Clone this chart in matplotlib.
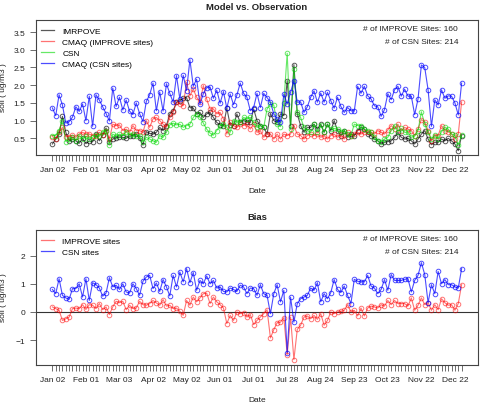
import numpy as np
import matplotlib
matplotlib.use("Agg")
import matplotlib.pyplot as plt
from matplotlib.lines import Line2D

plt.rcParams['font.family'] = ['Liberation Sans', 'DejaVu Sans']

# date labels every 10 samples (samples are every 3 days, by index)
date_labels = ["Jan 02", "Feb 01", "Mar 03", "Apr 02", "May 02", "Jun 01", "Jul 01",
               "Jul 28", "Aug 24", "Sep 23", "Oct 23", "Nov 22", "Dec 22"]

improve_obs = [0.34, 0.48, 0.62, 1.12, 0.67, 0.43, 0.48, 0.43, 0.36, 0.50,
               0.35, 0.43, 0.40, 0.62, 0.43, 0.59, 0.79, 0.39, 0.48, 0.52,
               0.53, 0.53, 0.50, 0.56, 0.58, 0.62, 0.50, 0.31, 0.69, 0.64,
               0.62, 0.67, 0.81, 0.72, 0.86, 1.19, 1.28, 1.52, 1.56, 1.63,
               1.65, 1.37, 1.35, 1.19, 1.23, 1.09, 1.19, 1.23, 1.09, 0.95,
               0.88, 0.86, 1.35, 0.88, 0.86, 1.19, 0.95, 1.00, 0.97, 0.95,
               1.33, 1.00, 0.86, 0.81, 0.62, 1.20, 1.00, 0.95, 1.19, 1.14,
               2.13, 0.86, 2.58, 1.19, 0.86, 0.67, 0.81, 0.81, 0.90, 0.76,
               0.90, 0.67, 0.90, 0.72, 1.00, 0.72, 0.58, 0.72, 0.53, 0.62,
               0.58, 0.72, 0.81, 0.76, 0.62, 0.58, 0.48, 0.43, 0.34, 0.39,
               0.41, 0.43, 0.53, 0.67, 0.53, 0.48, 0.50, 0.43, 0.34, 0.48,
               0.62, 0.72, 0.48, 0.32, 0.39, 0.39, 0.48, 0.43, 0.50, 0.43,
               0.34, 0.15, 0.58]

cmaq_improve = [0.55, 0.48, 0.67, 0.81, 0.55, 0.55, 0.59, 0.53, 0.62, 0.67,
                0.62, 0.62, 0.58, 0.58, 0.67, 0.59, 0.72, 0.48, 0.90, 0.86,
                0.88, 0.72, 0.76, 0.67, 0.86, 0.72, 0.72, 0.67, 1.00, 0.81,
                1.05, 1.09, 1.00, 0.90, 0.81, 1.09, 1.23, 1.52, 1.47, 1.42,
                2.08, 1.70, 1.89, 1.66, 1.52, 1.99, 1.61, 1.33, 1.33, 1.19,
                1.23, 1.05, 0.62, 0.95, 0.86, 0.81, 0.90, 0.86, 0.90, 0.76,
                0.90, 0.67, 0.72, 0.53, 0.62, 0.62, 0.48, 0.62, 0.48, 0.62,
                0.58, 0.62, 0.86, 0.62, 0.58, 0.48, 0.58, 0.62, 0.58, 0.62,
                0.53, 0.58, 0.48, 0.58, 0.62, 0.53, 0.62, 0.48, 0.67, 0.58,
                0.62, 0.67, 0.62, 0.67, 0.69, 0.67, 0.62, 0.72, 0.67, 0.62,
                0.74, 0.86, 0.76, 0.90, 0.72, 0.81, 0.76, 0.72, 0.58, 0.76,
                1.03, 0.97, 0.72, 0.43, 0.58, 0.58, 0.86, 0.72, 0.69, 0.62,
                0.48, 0.62, 1.53]

csn_obs = [0.58, 0.58, 0.72, 1.00, 0.41, 0.48, 0.53, 0.43, 0.58, 0.48,
           0.56, 0.48, 0.53, 0.59, 0.56, 0.69, 0.72, 0.32, 0.62, 0.56,
           0.62, 0.58, 0.69, 0.59, 0.62, 0.56, 0.58, 0.39, 0.53, 0.48,
           0.43, 0.39, 0.58, 0.53, 0.67, 0.88, 0.93, 0.88, 0.90, 0.81,
           0.86, 0.90, 1.09, 1.19, 1.09, 0.93, 0.76, 0.65, 0.59, 0.72,
           0.86, 0.90, 0.81, 0.67, 1.00, 0.97, 0.95, 1.09, 1.05, 1.09,
           0.95, 0.81, 0.86, 0.81, 1.33, 1.47, 1.44, 0.90, 0.83, 1.50,
           2.90, 0.75, 2.46, 1.23, 1.09, 0.81, 0.72, 0.67, 0.90, 0.69,
           0.89, 0.67, 0.90, 0.76, 0.78, 0.76, 0.67, 0.72, 0.62, 0.58,
           0.90, 0.86, 0.86, 0.76, 0.72, 0.67, 0.53, 0.43, 0.41, 0.48,
           0.53, 0.72, 0.86, 0.69, 0.78, 0.67, 0.67, 0.53, 0.56, 0.72,
           1.25, 0.90, 0.67, 0.48, 0.59, 0.48, 0.69, 0.81, 0.76, 0.62,
           0.59, 0.31, 0.59]

cmaq_csn = [1.36, 1.14, 1.73, 1.44, 0.93, 0.97, 1.10, 1.39, 1.26, 1.47,
            1.00, 1.69, 0.84, 1.73, 1.58, 1.39, 1.20, 0.99, 1.92, 1.40,
            1.66, 1.30, 1.58, 1.27, 1.17, 1.50, 1.20, 0.97, 1.54, 1.73,
            2.06, 1.28, 1.81, 1.27, 2.04, 1.77, 1.52, 2.27, 1.61, 2.28,
            1.85, 2.72, 1.97, 2.17, 1.46, 1.76, 1.93, 1.95, 1.63, 1.86,
            1.49, 1.82, 1.35, 1.75, 1.45, 1.72, 2.06, 1.77, 1.66, 1.28,
            1.37, 1.77, 1.37, 1.77, 1.65, 1.52, 1.19, 1.05, 0.95, 1.75,
            1.47, 1.80, 2.13, 1.52, 1.53, 1.23, 1.39, 1.66, 1.84, 1.52,
            1.78, 1.52, 1.80, 1.56, 1.35, 1.66, 1.40, 1.23, 1.37, 1.28,
            1.27, 1.97, 1.77, 1.97, 1.70, 1.61, 1.42, 1.39, 1.12, 1.31,
            1.76, 1.59, 1.87, 1.97, 1.69, 1.89, 1.69, 1.69, 1.17, 1.61,
            2.57, 2.50, 1.87, 0.84, 1.59, 1.44, 1.87, 1.63, 1.70, 1.69,
            1.50, 1.16, 2.06]

bias_improve = [0.18, 0.12, 0.06, -0.30, -0.24, -0.18, 0.12, 0.14, 0.12, 0.26,
                0.09, 0.26, 0.24, 0.12, 0.30, 0.08, 0.18, -0.09, 0.18, 0.38,
                0.33, 0.38, 0.08, 0.24, 0.12, 0.14, 0.38, 0.26, 0.24, 0.30,
                0.41, 0.32, 0.24, 0.44, 0.21, 0.24, 0.12, 0.14, 0.02, -0.12,
                0.41, 0.24, 0.53, 0.36, 0.50, 0.65, 0.67, 0.30, 0.53, 0.36,
                0.26, 0.14, -0.41, -0.12, -0.30, 0.00, -0.06, -0.02, -0.18, -0.09,
                -0.45, -0.30, -0.18, -0.06, 0.08, -0.92, -0.63, -0.38, -0.36, -0.20,
                -1.51, -0.18, -1.69, -0.62, -0.47, -0.18, -0.14, -0.24, -0.12, -0.26,
                -0.06, -0.47, -0.30, 0.00, -0.06, 0.00, 0.02, 0.06, 0.26, 0.00,
                0.06, -0.14, 0.14, -0.14, 0.14, 0.21, 0.18, 0.14, 0.26, 0.21,
                0.41, 0.26, 0.41, 0.30, 0.30, 0.30, 0.21, 0.50, 0.06, 0.24,
                0.50, 0.26, 0.33, 0.06, 0.26, 0.08, 0.47, 0.33, 0.24, 0.26,
                0.06, 0.30, 0.97]

bias_csn = [0.80, 0.65, 1.18, 0.59, 0.50, 0.45, 0.83, 0.83, 1.00, 0.53,
            1.18, 0.41, 1.04, 0.97, 0.85, 0.56, 0.67, 1.22, 0.89, 0.95,
            0.80, 1.00, 0.71, 0.67, 1.00, 0.83, 0.59, 1.09, 1.24, 1.30,
            0.83, 1.03, 0.73, 1.15, 0.89, 0.57, 1.30, 0.89, 1.42, 1.07,
            1.54, 1.04, 1.40, 0.77, 1.12, 1.00, 1.28, 1.00, 1.12, 0.85,
            0.89, 0.73, 0.71, 0.85, 0.80, 0.73, 0.95, 0.89, 0.65, 0.85,
            0.83, 0.59, 0.97, 0.65, 0.59, -0.06, 0.65, 0.97, 0.36, 0.77,
            -1.44, 0.53, -0.36, 0.30, 0.47, 0.53, 0.59, 0.85, 0.77, 1.04,
            0.36, 0.65, 0.47, 0.69, 1.15, 0.80, 0.69, 0.92, 0.59, 0.30,
            1.16, 1.09, 1.07, 1.07, 1.30, 0.92, 0.85, 0.65, 0.80, 1.15,
            0.77, 1.33, 1.12, 1.12, 1.12, 1.16, 1.18, 0.71, 1.12, 1.30,
            1.75, 1.33, 0.33, 0.97, 0.65, 1.44, 1.00, 1.15, 0.97, 0.97,
            0.89, 0.85, 1.54]

n = len(cmaq_csn)
x = np.arange(n)

fs = 6.0
red = (1, 0, 0, 0.55)
green = (0, 0.85, 0, 0.6)
blue = (0, 0, 1, 0.7)
black = (0, 0, 0, 0.65)

fig = plt.figure(figsize=(4.83, 4.10), dpi=100)
W, H = 483.0, 410.0
ax1 = fig.add_axes([36 / W, (H - 156) / H, 442 / W, 135 / H])
ax2 = fig.add_axes([36 / W, (H - 365.7) / H, 442 / W, 135 / H])


def series(ax, y, c):
    ax.plot(x, y, '-o', color=c, lw=0.8, ms=3.3, mfc='none', mec=c, mew=0.7)


def style(ax):
    ax.set_xlim(-0.04 * (n - 1), (n - 1) * 1.04)
    ax.set_xticks(x, minor=True)
    ax.set_xticks(np.arange(0, n, 10))
    ax.set_xticklabels(date_labels)
    ax.tick_params(which='both', direction='out', length=4.3, width=0.5, colors='#333333',
                   labelsize=fs, labelcolor='#222222', pad=3.5)
    for s in ax.spines.values():
        s.set_color('#444444')
        s.set_linewidth(0.8)


def legend(ax, colors, labels):
    handles = [Line2D([], [], color=c, lw=0.9) for c in colors]
    ax.legend(handles, labels, loc='upper left', frameon=False, fontsize=fs, handlelength=1.6,
              handletextpad=1.0, labelspacing=0.38, borderaxespad=0.25, borderpad=0.3,
              bbox_to_anchor=(0.0, 0.98))


series(ax1, improve_obs, black)
series(ax1, cmaq_improve, red)
series(ax1, csn_obs, green)
series(ax1, cmaq_csn, blue)
style(ax1)
ax1.set_ylim(0.03, 3.84)
ax1.set_yticks([0.5, 1.0, 1.5, 2.0, 2.5, 3.0, 3.5])
ax1.set_yticklabels(["0.5", "1.0", "1.5", "2.0", "2.5", "3.0", "3.5"])
legend(ax1, [black, red, green, blue],
       ["IMRPOVE", "CMAQ (IMPROVE sites)", "CSN", "CMAQ (CSN sites)"])

ax2.axhline(0, color='#333333', lw=0.8)
series(ax2, bias_improve, red)
series(ax2, bias_csn, blue)
style(ax2)
ax2.set_ylim(-1.87, 2.92)
ax2.set_yticks([-1, 0, 1, 2])
legend(ax2, [red, blue], ["IMPROVE sites", "CSN sites"])

for ax in (ax1, ax2):
    ax.text(0.955, 0.935, "# of IMPROVE Sites: 160", transform=ax.transAxes, ha='right', va='center',
            fontsize=fs, color='#222222')
    ax.text(0.955, 0.84, "# of CSN Sites: 214", transform=ax.transAxes, ha='right', va='center',
            fontsize=fs, color='#222222')

fig.text(257 / W, 1 - 8 / H, "Model vs. Observation", ha='center', va='center', fontsize=6.8,
         fontweight='bold', color='#222222')
fig.text(257 / W, 1 - 218 / H, "Bias", ha='center', va='center', fontsize=6.8,
         fontweight='bold', color='#222222')
fig.text(257 / W, 1 - 192 / H, "Date", ha='center', va='center', fontsize=fs, color='#222222')
fig.text(257 / W, 1 - 401 / H, "Date", ha='center', va='center', fontsize=fs, color='#222222')
fig.text(4 / W, 1 - 88 / H, "soil ( ug/m3 )", rotation=90, ha='center', va='center', fontsize=fs,
         color='#222222')
fig.text(4 / W, 1 - 298 / H, "soil ( ug/m3 )", rotation=90, ha='center', va='center', fontsize=fs,
         color='#222222')

fig.savefig("out.png", dpi=100)
